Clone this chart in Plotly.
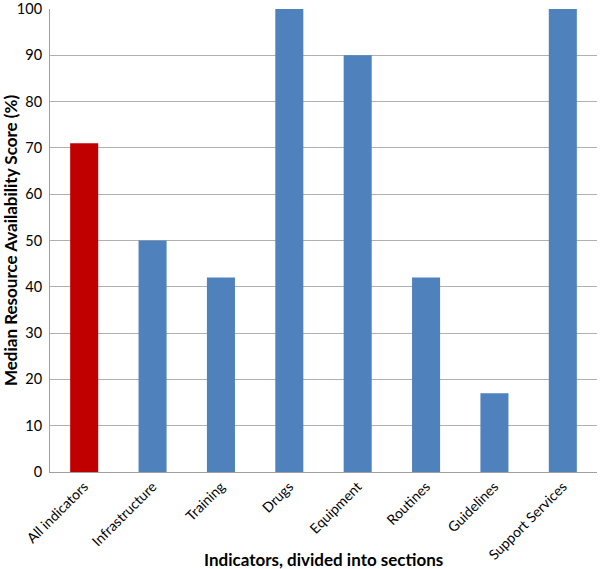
import plotly.graph_objects as go

categories = ["All indicators", "Infrastructure", "Training", "Drugs",
              "Equipment", "Routines", "Guidelines", "Support Services"]
scores = [71, 50, 42, 100, 90, 42, 17, 100]
bar_colors = ["#C00000"] + ["#4F81BD"] * 7
y_ticks = list(range(0, 101, 10))

FONT = "Lato, 'Open Sans', sans-serif"

fig = go.Figure(go.Bar(x=categories, y=scores, marker=dict(color=bar_colors, line=dict(width=0))))

fig.update_layout(
    width=600, height=569,
    margin=dict(l=50, r=3, t=9, b=97),
    plot_bgcolor="white", paper_bgcolor="white",
    bargap=0.59,
    showlegend=False,
    font=dict(family=FONT, size=14, color="#000000"),
    annotations=[dict(
        text="<b>Indicators, divided into sections</b>", xref="paper", yref="paper",
        x=0.5, y=-0.189, xanchor="center", yanchor="middle", showarrow=False,
        font=dict(size=17),
    )],
)
fig.update_xaxes(
    tickangle=-45, showgrid=False, showline=True, linecolor="#A0A0A0", linewidth=1,
    ticks="", automargin=False, tickfont=dict(size=14), ticklabeloverflow="allow",
)
fig.update_yaxes(
    range=[0, 100], tickvals=y_ticks, showgrid=True, gridcolor="#B0B0B0", gridwidth=1,
    showline=True, linecolor="#A0A0A0", linewidth=1, zeroline=False,
    ticks="", ticklabelstandoff=4, automargin=False, tickfont=dict(size=14.5),
    ticklabeloverflow="allow",
    title=dict(text="<b>Median Resource Availability Score (%)</b>", font=dict(size=17), standoff=8),
)

fig.write_html("out.html", config={"displayModeBar": False},
               post_script="document.body.style.margin='0';")
